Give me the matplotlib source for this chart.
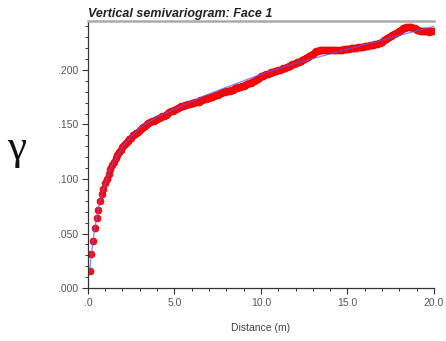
import numpy as np
import matplotlib
matplotlib.use("Agg")
import matplotlib.pyplot as plt
from matplotlib.ticker import MultipleLocator, FixedLocator

# experimental semivariogram, lag spacing 0.1 m
lag_step = 0.1
gamma_exp = [
    0.016, 0.031, 0.043, 0.055, 0.064, 0.072, 0.080, 0.086, 0.091, 0.096,
    0.100, 0.105, 0.109, 0.113, 0.116, 0.119, 0.122, 0.125, 0.127, 0.129,
    0.131, 0.133, 0.135, 0.137, 0.138, 0.140, 0.141, 0.142, 0.143, 0.145,
    0.147, 0.148, 0.149, 0.150, 0.151, 0.152, 0.153, 0.153, 0.154, 0.155,
    0.156, 0.157, 0.158, 0.158, 0.159, 0.160, 0.161, 0.162, 0.162, 0.163,
    0.164, 0.165, 0.166, 0.167, 0.167, 0.168, 0.168, 0.169, 0.169, 0.170,
    0.170, 0.171, 0.171, 0.171, 0.172, 0.172, 0.173, 0.173, 0.174, 0.174,
    0.175, 0.175, 0.176, 0.177, 0.177, 0.178, 0.179, 0.180, 0.180, 0.181,
    0.181, 0.181, 0.182, 0.182, 0.183, 0.183, 0.184, 0.184, 0.185, 0.185,
    0.186, 0.187, 0.188, 0.188, 0.189, 0.190, 0.191, 0.192, 0.193, 0.194,
    0.194, 0.195, 0.196, 0.196, 0.197, 0.198, 0.198, 0.199, 0.199, 0.200,
    0.200, 0.201, 0.202, 0.202, 0.203, 0.204, 0.204, 0.205, 0.205, 0.206,
    0.207, 0.207, 0.208, 0.209, 0.210, 0.211, 0.212, 0.213, 0.214, 0.215,
    0.216, 0.217, 0.217, 0.218, 0.218, 0.218, 0.218, 0.218, 0.218, 0.218,
    0.218, 0.218, 0.218, 0.218, 0.218, 0.218, 0.218, 0.219, 0.219, 0.219,
    0.219, 0.220, 0.220, 0.220, 0.220, 0.221, 0.221, 0.221, 0.221, 0.222,
    0.222, 0.222, 0.223, 0.223, 0.223, 0.224, 0.224, 0.225, 0.225, 0.226,
    0.227, 0.228, 0.229, 0.230, 0.231, 0.232, 0.233, 0.234, 0.235, 0.236,
    0.237, 0.238, 0.238, 0.239, 0.239, 0.239, 0.239, 0.238, 0.238, 0.237,
    0.237, 0.236, 0.236, 0.236, 0.236, 0.236, 0.235, 0.236, 0.236, 0.236,
]
lags = [round(lag_step * (i + 1), 1) for i in range(len(gamma_exp))]

# fitted model curve
model_h = [0.1, 0.2, 0.3, 0.4, 0.5, 0.6, 0.7, 0.8, 0.9, 1.0, 1.25, 1.5,
           2.0, 2.5, 3.0, 4.0, 5.0, 6.0, 7.0, 8.0, 9.0, 10.0, 12.0, 15.0, 20.0]
model_g = [0.016, 0.031, 0.043, 0.055, 0.064, 0.072, 0.080, 0.086, 0.091,
           0.096, 0.107, 0.116, 0.129, 0.139, 0.147, 0.157, 0.164, 0.171,
           0.178, 0.184, 0.190, 0.196, 0.206, 0.219, 0.240]

x_ticks = [0, 5, 10, 15, 20]
x_labels = [".0", "5.0", "10.0", "15.0", "20.0"]
y_ticks = [0.0, 0.05, 0.10, 0.15, 0.20]
y_labels = [".000", ".050", ".100", ".150", ".200"]

plt.rcParams['font.family'] = ['Liberation Sans', 'DejaVu Sans']

fig = plt.figure(figsize=(4.46, 3.41), dpi=100)
ax = fig.add_axes([0.197, 0.155, 0.776, 0.784])

ax.plot(lags, gamma_exp, linestyle='none', marker='o', markersize=5,
        markerfacecolor='#ff0a0a', markeredgecolor='#e80000',
        markeredgewidth=0.5, zorder=2)
ax.plot(model_h, model_g, color='#5a5aff', linewidth=0.9, alpha=0.75, zorder=3)

ax.set_xlim(0, 20)
ax.set_ylim(0, 0.245)

ax.xaxis.set_major_locator(FixedLocator(x_ticks))
ax.set_xticklabels(x_labels)
ax.xaxis.set_minor_locator(MultipleLocator(1))
ax.yaxis.set_major_locator(FixedLocator(y_ticks))
ax.set_yticklabels(y_labels)
ax.yaxis.set_minor_locator(MultipleLocator(0.01))

ax.tick_params(which='major', direction='out', length=4.5, width=0.8,
               colors='#333333', labelsize=7.5, pad=2.5, labelcolor='#555555')
ax.tick_params(which='minor', direction='out', length=2.5, width=0.7,
               colors='#333333')
ax.tick_params(top=False, right=False, which='both')

ax.spines['right'].set_visible(False)
ax.spines['top'].set_color('#aaaaaa')
ax.spines['top'].set_linewidth(1.8)
for side in ['left', 'bottom']:
    ax.spines[side].set_color('#333333')
    ax.spines[side].set_linewidth(0.9)

ax.set_xlabel("Distance (m)", fontsize=7.5, color='#444444', labelpad=11)
ax.set_title("Vertical semivariogram: Face 1", fontsize=9,
             fontweight='bold', fontstyle='italic', loc='left', pad=3,
             color='#222222')
fig.text(0.038, 0.563, "γ", fontsize=31, family='Liberation Serif',
         ha='center', va='center', color='#111111')

fig.savefig("out.png", dpi=100)
